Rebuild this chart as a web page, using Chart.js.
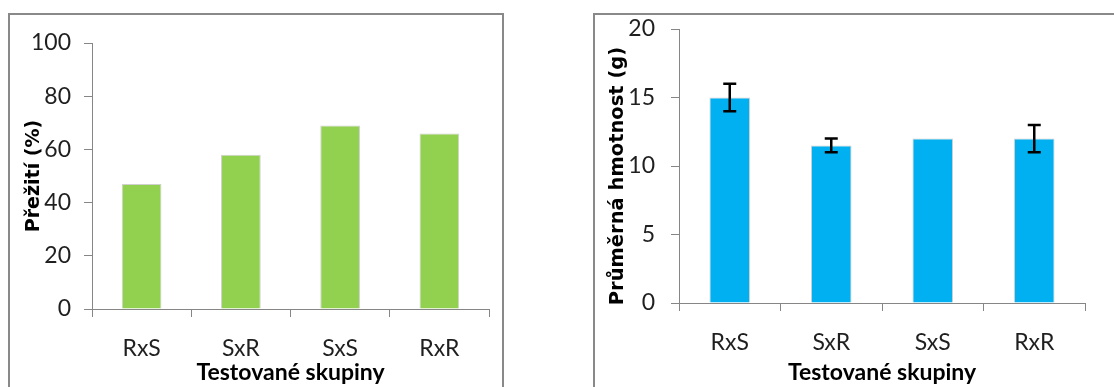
<!DOCTYPE html>
<html>
<head>
<meta charset="utf-8">
<script src="https://cdn.jsdelivr.net/npm/chart.js@4"></script>
<style>
  html, body { margin: 0; padding: 0; background: #fff; overflow: hidden; width: 1114px; height: 387px; }
  .panel { position: absolute; border: 2px solid #898989; background: #fff; }
  #p1 { left: 8px; top: 13px; width: 492px; height: 390px; }
  #p2 { left: 593px; top: 13px; width: 530px; height: 390px; }
  canvas { display: block; }
</style>
</head>
<body>
<div class="panel" id="p1"><canvas id="c1" width="492" height="390"></canvas></div>
<div class="panel" id="p2"><canvas id="c2" width="530" height="390"></canvas></div>
<script>
// Tested groups (crosses) and measured results
const groups = ['RxS', 'SxR', 'SxS', 'RxR'];
const survival = [47, 58, 69, 66];          // Přežití (%)
const meanMass = [15, 11.5, 12, 12];        // Průměrná hmotnost (g)
const massError = [1, 0.5, 0, 1];           // ± error of mean mass
const survivalTicks = [0, 20, 40, 60, 80, 100];
const massTicks = [0, 5, 10, 15, 20];

const FONT = 'Lato, "Open Sans", sans-serif';
const TITLE_FONT = '"DejaVu Sans", sans-serif';
const AXIS = '#868686';
const TEXT = '#1f1f1f';

// Draws vertical error bars with caps from a dataset's error array
const errorBars = {
  id: 'errorBars',
  afterDatasetsDraw(chart, args, opts) {
    if (!opts || !opts.errors) return;
    const ctx = chart.ctx;
    const meta = chart.getDatasetMeta(0);
    const y = chart.scales.y;
    const values = chart.data.datasets[0].data;
    ctx.save();
    ctx.strokeStyle = '#000';
    ctx.lineWidth = 2.5;
    opts.errors.forEach((e, i) => {
      if (!e) return;
      const x = meta.data[i].x;
      const top = y.getPixelForValue(values[i] + e);
      const bot = y.getPixelForValue(values[i] - e);
      const half = 6.5;
      ctx.beginPath();
      ctx.moveTo(x, top); ctx.lineTo(x, bot);
      ctx.moveTo(x - half, top); ctx.lineTo(x + half, top);
      ctx.moveTo(x - half, bot); ctx.lineTo(x + half, bot);
      ctx.stroke();
    });
    ctx.restore();
  }
};

// Rotated value-axis title, placed beside the y scale
const valueTitle = {
  id: 'valueTitle',
  afterDraw(chart, args, opts) {
    if (!opts || !opts.text) return;
    const ctx = chart.ctx;
    const area = chart.chartArea;
    ctx.save();
    ctx.translate(opts.x, (area.top + area.bottom) / 2 + (opts.dy || 0));
    ctx.rotate(-Math.PI / 2);
    ctx.font = 'bold ' + opts.size + 'px ' + TITLE_FONT;
    ctx.fillStyle = '#000';
    ctx.textAlign = 'center';
    ctx.textBaseline = 'middle';
    ctx.fillText(opts.text, 0, 0);
    ctx.restore();
  }
};

function makeChart(id, values, color, yTitle, yTicks, layout, errors) {
  const yMax = yTicks[yTicks.length - 1];
  const step = yTicks[1] - yTicks[0];
  return new Chart(document.getElementById(id), {
    type: 'bar',
    data: {
      labels: groups,
      datasets: [{
        data: values,
        backgroundColor: color,
        borderColor: '#d0d0d0',
        borderWidth: 1,
        barPercentage: 0.4,
        categoryPercentage: 1.0
      }]
    },
    options: {
      responsive: false,
      animation: false,
      devicePixelRatio: 1,
      layout: { padding: layout.padding },
      plugins: {
        legend: { display: false },
        tooltip: { enabled: false },
        errorBars: { errors: errors },
        valueTitle: { text: yTitle, x: layout.titleX, dy: layout.titleDy, size: layout.titleSize }
      },
      scales: {
        x: {
          offset: true,
          grid: { offset: true, drawOnChartArea: false, drawTicks: true, tickLength: 8, color: AXIS, lineWidth: 1 },
          border: { color: AXIS, width: 1 },
          ticks: { color: TEXT, padding: 18, font: { family: FONT, size: 23 } },
          title: { display: true, text: 'Testované skupiny', color: '#000', padding: 0,
                   font: { family: FONT, size: 23, weight: 'bold', lineHeight: 1.2 } },
          afterFit(s) { s.height = layout.xHeight; }
        },
        y: {
          min: 0, max: yMax,
          grid: { drawOnChartArea: false, drawTicks: true, tickLength: 8, color: AXIS, lineWidth: 1 },
          border: { color: AXIS, width: 1 },
          ticks: { stepSize: step, color: TEXT, padding: layout.yPad, font: { family: FONT, size: 23 } },
          afterFit(s) { s.width = layout.yWidth; s.paddingTop = 0; s.paddingBottom = 0; }
        }
      }
    },
    plugins: [errorBars, valueTitle]
  });
}

makeChart('c1', survival, '#92D050', 'Přežití (%)', survivalTicks,
  { padding: { left: 6, right: 13, top: 28, bottom: 19 }, xHeight: 77, yWidth: 76, yPad: 13,
    titleX: 24.5, titleDy: 0, titleSize: 19 }, null);

makeChart('c2', meanMass, '#00B0F0', 'Průměrná hmotnost (g)', massTicks,
  { padding: { left: 4, right: 40, top: 14, bottom: 19 }, xHeight: 83, yWidth: 80, yPad: 16,
    titleX: 22.5, titleDy: 10, titleSize: 19.5 }, massError);
</script>
</body>
</html>
